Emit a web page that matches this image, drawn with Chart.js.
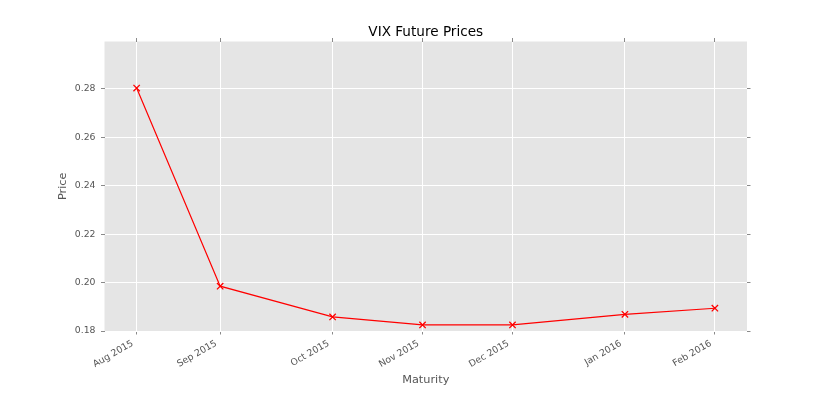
<!DOCTYPE html>
<html>
<head>
<meta charset="utf-8">
<script src="https://cdn.jsdelivr.net/npm/chart.js@4.4.1/dist/chart.umd.min.js"></script>
<style>
  html, body { margin: 0; padding: 0; background: #ffffff; }
  canvas { display: block; }
</style>
</head>
<body>
<canvas id="c" width="830" height="415"></canvas>
<script>
// ---- data ----
const maturityDates = ['2015-08-21', '2015-09-16', '2015-10-21', '2015-11-18', '2015-12-16', '2016-01-20', '2016-02-17'];
const tickLabels = ['Aug 2015', 'Sep 2015', 'Oct 2015', 'Nov 2015', 'Dec 2015', 'Jan 2016', 'Feb 2016'];
const prices = [0.2803, 0.1985, 0.1858, 0.1825, 0.1825, 0.1869, 0.1894];
const yTicks = [0.18, 0.20, 0.22, 0.24, 0.26, 0.28];
const xLimits = ['2015-08-11', '2016-02-27'];
const yLimits = [0.18, 0.2995];

const DAY = 86400000;
const base = Date.parse(maturityDates[0]);
const toDay = s => (Date.parse(s) - base) / DAY;
const xVals = maturityDates.map(toDay);
const points = xVals.map((x, i) => ({ x: x, y: prices[i] }));

const FONT = "'DejaVu Sans', sans-serif";
const TEXTC = '#555555';
const TICKC = '#8a8a8a';

const bgPlugin = {
  id: 'bg',
  beforeDraw(chart) {
    const { ctx, chartArea: a } = chart;
    ctx.save();
    ctx.fillStyle = '#E5E5E5';
    ctx.fillRect(a.left, a.top, a.right - a.left, a.bottom - a.top);
    ctx.restore();
  }
};

const xTickBuild = s => { s.ticks = xVals.map(v => ({ value: v })); };
const yTickBuild = s => { s.ticks = yTicks.map(v => ({ value: v })); };

new Chart(document.getElementById('c'), {
  type: 'line',
  data: {
    datasets: [{
      data: points,
      borderColor: '#FF0000',
      backgroundColor: '#FF0000',
      borderWidth: 1.2,
      pointStyle: 'crossRot',
      pointRadius: 4.5,
      pointHoverRadius: 4.5,
      pointBorderWidth: 1.3,
      tension: 0,
      fill: false
    }]
  },
  options: {
    responsive: false,
    animation: false,
    devicePixelRatio: 1,
    layout: { padding: 0 },
    plugins: {
      legend: { display: false },
      tooltip: { enabled: false },
      title: {
        display: true,
        text: 'VIX Future Prices',
        fullSize: false,
        color: '#000000',
        font: { family: FONT, size: 13.6, weight: 'normal' },
        padding: { top: 24.5, bottom: 0 }
      }
    },
    scales: {
      x: {
        type: 'linear',
        position: 'bottom',
        min: toDay(xLimits[0]),
        max: toDay(xLimits[1]),
        afterBuildTicks: xTickBuild,
        afterFit: s => { s.height = 84; },
        border: { display: false },
        grid: { color: '#FFFFFF', lineWidth: 1, tickColor: TICKC, tickLength: 3.5, drawTicks: true },
        ticks: {
          autoSkip: false,
          minRotation: 30,
          maxRotation: 30,
          padding: 3.5,
          labelOffset: -4,
          color: TEXTC,
          font: { family: FONT, size: 9.3 },
          callback: (v, i) => tickLabels[i]
        },
        title: {
          display: true,
          text: 'Maturity',
          color: TEXTC,
          font: { family: FONT, size: 11.3 },
          padding: { top: 0, bottom: 28 }
        }
      },
      x2: {
        type: 'linear',
        position: 'top',
        min: toDay(xLimits[0]),
        max: toDay(xLimits[1]),
        afterBuildTicks: xTickBuild,
        afterFit: s => { s.height = 0.7; },
        border: { display: false },
        grid: { drawOnChartArea: false, color: TICKC, tickColor: TICKC, tickLength: 3.5 },
        ticks: { display: false }
      },
      y: {
        type: 'linear',
        position: 'left',
        min: yLimits[0],
        max: yLimits[1],
        afterBuildTicks: yTickBuild,
        afterFit: s => { s.width = 104.5; },
        border: { display: false },
        grid: { color: '#FFFFFF', lineWidth: 1, tickColor: TICKC, tickLength: 3.5 },
        ticks: {
          padding: 5.5,
          color: TEXTC,
          font: { family: FONT, size: 9.3 },
          callback: v => v.toFixed(2)
        },
        title: {
          display: true,
          text: 'Price',
          color: TEXTC,
          font: { family: FONT, size: 11.3 },
          padding: { top: 56, bottom: 0 }
        }
      },
      y2: {
        type: 'linear',
        position: 'right',
        min: yLimits[0],
        max: yLimits[1],
        afterBuildTicks: yTickBuild,
        afterFit: s => { s.width = 83; },
        border: { display: false },
        grid: { drawOnChartArea: false, color: TICKC, tickColor: TICKC, tickLength: 3.5 },
        ticks: { display: false }
      }
    }
  },
  plugins: [bgPlugin]
});
</script>
</body>
</html>
